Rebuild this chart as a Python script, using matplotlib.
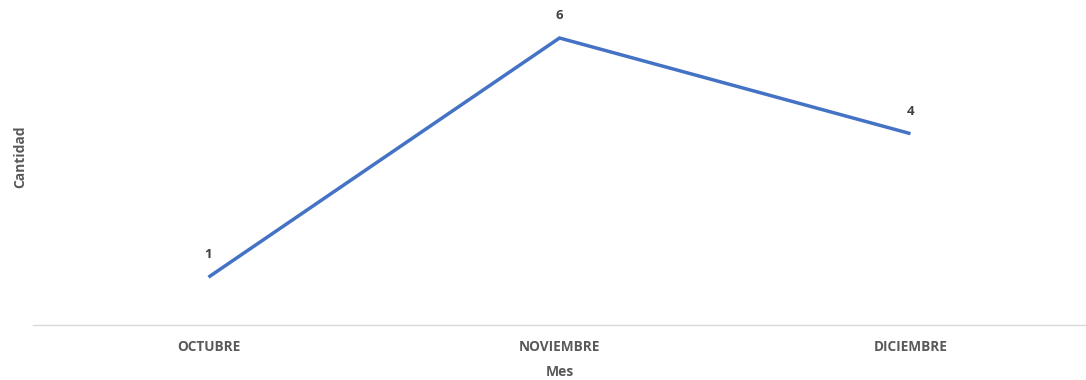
import matplotlib
matplotlib.use("Agg")
import matplotlib.pyplot as plt

categories = ["OCTUBRE", "NOVIEMBRE", "DICIEMBRE"]
values = [1, 6, 4]

plt.rcParams['font.family'] = ['Open Sans', 'DejaVu Sans']
gray = "#595959"

fig = plt.figure(figsize=(10.86, 3.80), dpi=100)
ax = fig.add_axes([33/1086, 1 - 325/380, 1 - 33/1086, 325/380])
x = list(range(len(categories)))
ax.plot(x, values, color="#4472C4", linewidth=2.5, solid_capstyle="butt", solid_joinstyle="miter")
for xi, v in zip(x, values):
    ax.annotate(str(v), (xi, v), xytext=(0, 16), textcoords="offset points",
                ha="center", va="center", fontsize=9.5, fontweight="bold", color="#404040")
ax.set_xlim(-0.5, len(categories) - 0.5)
ax.set_ylim(0, 6 * 325 / 287)
ax.set_xticks(x)
ax.set_xticklabels(categories, fontsize=9.8, fontweight="bold", color=gray)
ax.tick_params(axis="x", length=0, pad=11)
ax.set_yticks([])
for s in ["top", "right", "left"]:
    ax.spines[s].set_visible(False)
ax.spines["bottom"].set_color("#D9D9D9")
ax.spines["bottom"].set_linewidth(1)
ax.set_xlabel("Mes", fontsize=10, fontweight="bold", color=gray, labelpad=8)
fig.text(20/1086, 1 - 157/380, "Cantidad", rotation=90, ha="center", va="center",
         fontsize=10, fontweight="bold", color=gray)
fig.savefig("out.png", dpi=100)
